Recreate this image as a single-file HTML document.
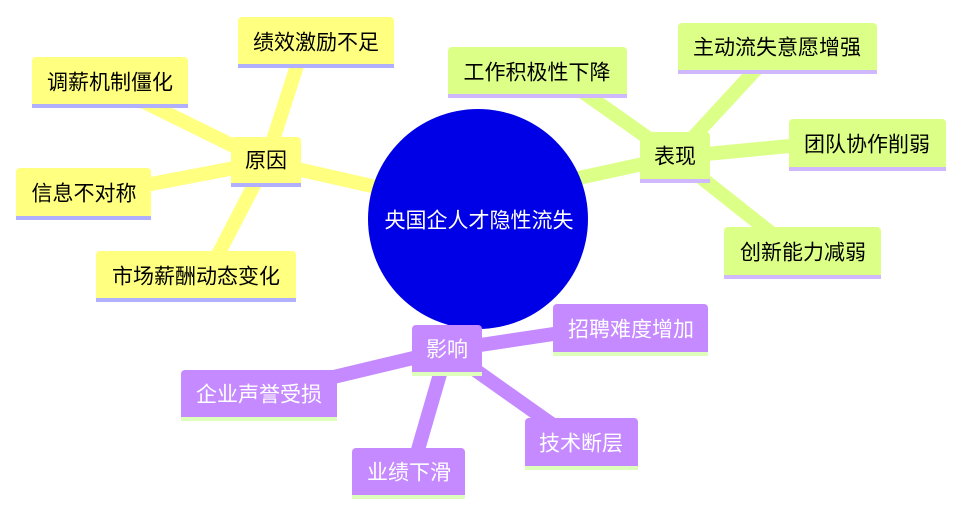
<!DOCTYPE html>
<html><head><meta charset="utf-8"><style>
html,body{margin:0;padding:0;background:#fff;width:964px;height:515px;overflow:hidden}
svg{display:block}
text{font-family:"Liberation Sans","Noto Sans CJK SC",sans-serif;font-size:21px;dominant-baseline:central;text-anchor:middle}
</style></head><body>
<svg width="964" height="515" viewBox="0 0 964 515">
<g stroke-linecap="butt" fill="none">
<g stroke="#ffff80" stroke-width="14">
<line x1="478" y1="210" x2="266" y2="162"/>
<line x1="266" y1="162" x2="302" y2="50"/>
<line x1="266" y1="162" x2="140" y2="100"/>
<line x1="266" y1="162" x2="130" y2="188"/>
<line x1="266" y1="162" x2="210" y2="270"/>
</g>
<g stroke="#dcff88" stroke-width="14">
<line x1="478" y1="200" x2="675" y2="157"/>
<line x1="675" y1="157" x2="580" y2="90"/>
<line x1="675" y1="157" x2="760" y2="65"/>
<line x1="675" y1="157" x2="800" y2="145"/>
<line x1="675" y1="157" x2="780" y2="240"/>
</g>
<g stroke="#c58aff" stroke-width="14">
<line x1="478" y1="250" x2="447" y2="350"/>
<line x1="447" y1="350" x2="580" y2="330"/>
<line x1="447" y1="350" x2="300" y2="385"/>
<line x1="447" y1="350" x2="415" y2="460"/>
<line x1="447" y1="350" x2="560" y2="430"/>
</g>
</g>
<circle cx="478" cy="219" r="110" fill="#0000e6"/>
<text x="479" y="221" fill="#fff">央国企人才隐性流失</text>

<g>
<rect x="231" y="137" width="70" height="50" rx="4" fill="#ffff80"/><rect x="231" y="183" width="70" height="4" fill="#b0b0ff"/><text x="266" y="161">原因</text>
<rect x="238" y="17" width="156" height="51" rx="4" fill="#ffff80"/><rect x="238" y="64" width="156" height="4" fill="#b0b0ff"/><text x="316" y="43">绩效激励不足</text>
<rect x="32" y="57" width="156" height="51" rx="4" fill="#ffff80"/><rect x="32" y="104" width="156" height="4" fill="#b0b0ff"/><text x="110" y="83">调薪机制僵化</text>
<rect x="16" y="168" width="135" height="52" rx="4" fill="#ffff80"/><rect x="16" y="216" width="135" height="4" fill="#b0b0ff"/><text x="84" y="194">信息不对称</text>
<rect x="96" y="251" width="200" height="51" rx="4" fill="#ffff80"/><rect x="96" y="298" width="200" height="4" fill="#b0b0ff"/><text x="196" y="277">市场薪酬动态变化</text>
</g>
<g>
<rect x="640" y="132" width="70" height="51" rx="4" fill="#dcff88"/><rect x="640" y="179" width="70" height="4" fill="#d0b8ff"/><text x="675" y="157">表现</text>
<rect x="448" y="47" width="179" height="51" rx="4" fill="#dcff88"/><rect x="448" y="94" width="179" height="4" fill="#d0b8ff"/><text x="537" y="73">工作积极性下降</text>
<rect x="678" y="23" width="199" height="51" rx="4" fill="#dcff88"/><rect x="678" y="70" width="199" height="4" fill="#d0b8ff"/><text x="777" y="48">主动流失意愿增强</text>
<rect x="789" y="119" width="157" height="52" rx="4" fill="#dcff88"/><rect x="789" y="167" width="157" height="4" fill="#d0b8ff"/><text x="867" y="145">团队协作削弱</text>
<rect x="724" y="227" width="157" height="52" rx="4" fill="#dcff88"/><rect x="724" y="275" width="157" height="4" fill="#d0b8ff"/><text x="803" y="253">创新能力减弱</text>
</g>
<g>
<rect x="412" y="325" width="70" height="51" rx="4" fill="#c58aff"/><rect x="412" y="372" width="70" height="4" fill="#ddffbb"/><text x="447" y="350" fill="#fff">影响</text>
<rect x="553" y="304" width="155" height="52" rx="4" fill="#c58aff"/><rect x="553" y="352" width="155" height="4" fill="#ddffbb"/><text x="631" y="330" fill="#fff">招聘难度增加</text>
<rect x="181" y="370" width="156" height="51" rx="4" fill="#c58aff"/><rect x="181" y="417" width="156" height="4" fill="#ddffbb"/><text x="259" y="395" fill="#fff">企业声誉受损</text>
<rect x="352" y="448" width="113" height="51" rx="4" fill="#c58aff"/><rect x="352" y="495" width="113" height="4" fill="#ddffbb"/><text x="409" y="473" fill="#fff">业绩下滑</text>
<rect x="525" y="418" width="113" height="52" rx="4" fill="#c58aff"/><rect x="525" y="466" width="113" height="4" fill="#ddffbb"/><text x="581" y="444" fill="#fff">技术断层</text>
</g>
</svg>
</body></html>
